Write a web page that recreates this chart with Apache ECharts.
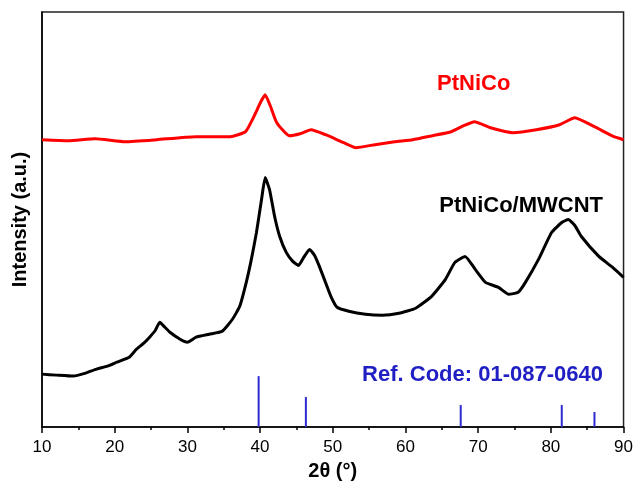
<!DOCTYPE html>
<html>
<head>
<meta charset="utf-8">
<script src="https://cdn.jsdelivr.net/npm/echarts@6/dist/echarts.min.js"></script>
<style>html,body{margin:0;padding:0;background:#fff}#c{width:636px;height:486px}</style>
</head>
<body>
<div id="c"></div>
<script>
// 2θ ticks
const xTicks = [10, 20, 30, 40, 50, 60, 70, 80, 90];
// PtNiCo/MWCNT (black) — [2θ, intensity a.u.]
const mwcnt2theta = [10, 12, 14.3, 16, 17.5, 19, 20.3, 22, 23, 24, 24.8, 25.6, 26.2, 26.9, 27.6, 29, 30, 31.2, 33, 34.8, 36.2, 37.2, 38.1, 38.8, 39.5, 40.2, 40.7, 41.3, 42, 42.7, 43.6, 44.5, 45.3, 46, 46.8, 47.5, 48.1, 49, 49.8, 50.6, 52.2, 54.5, 56.8, 59.1, 61.4, 63.6, 65.5, 66.8, 68.2, 69.6, 71, 72.8, 74.2, 75.5, 76.5, 78.3, 80.1, 81.5, 82.4, 83.3, 84.2, 86.6, 88.5, 90];
const mwcntInt = [53, 52, 51, 54, 58, 61, 65, 70, 78, 84, 90, 97, 105, 100, 95, 88, 85, 90, 93, 96, 108, 121, 145, 168, 195, 228, 250, 238, 211, 191, 175, 166, 162, 170, 178, 172, 162, 145, 130, 120, 116, 113, 112, 114, 119, 131, 148, 165, 171, 158, 145, 140, 133, 135, 145, 168, 195, 205, 208, 202, 191, 171, 160, 150];
// PtNiCo (red)
const ptnico2theta = [10, 13.6, 17.3, 21.5, 25.8, 31.1, 35.9, 38, 39.4, 40.1, 40.7, 41.4, 42.3, 44, 45.5, 47, 49, 51.5, 53.2, 55.8, 58.5, 61, 63.7, 66.3, 68, 69.5, 71.7, 74.8, 78, 81.2, 83.3, 86, 88.7, 90];
const ptnicoInt = [288, 287, 289, 286, 288, 291, 291, 296, 315, 326, 333, 322, 305, 292, 294, 298, 293, 285, 280, 283, 286, 288, 292, 296, 302, 306, 300, 295, 298, 303, 310, 301, 291, 288];
// Reference pattern 01-087-0640
const ref2theta = [39.8, 46.3, 67.6, 81.5, 86.0];
const refInt = [51, 30, 22, 22, 15];

const zip = (a, b) => a.map((v, i) => [v, b[i]]);
const chart = echarts.init(document.getElementById('c'), null, {renderer: 'canvas'});
const FONT = '"Liberation Sans", Arial, sans-serif';
chart.setOption({
  animation: false,
  backgroundColor: '#fff',
  grid: {left: 42, right: 10, top: 12, bottom: 57, show: true, borderColor: '#222', borderWidth: 1.5},
  xAxis: {
    type: 'value', min: xTicks[0], max: xTicks[xTicks.length - 1], interval: 10,
    name: '2θ (°)', nameLocation: 'middle', nameGap: 34,
    nameTextStyle: {fontFamily: FONT, fontWeight: 'bold', fontSize: 20, color: '#000'},
    axisLine: {show: true, lineStyle: {color: '#000', width: 1.5}},
    axisTick: {show: true, inside: false, length: 6, lineStyle: {color: '#000', width: 1.5}},
    minorTick: {show: true, splitNumber: 2, length: 3, lineStyle: {color: '#000', width: 1.5}},
    axisLabel: {fontFamily: FONT, fontSize: 17, color: '#000', margin: 12},
    splitLine: {show: false}
  },
  yAxis: {
    type: 'value', min: 0, max: 416,
    name: 'Intensity (a.u.)', nameLocation: 'middle', nameGap: 12, nameRotate: 90,
    nameTextStyle: {fontFamily: FONT, fontWeight: 'bold', fontSize: 20, color: '#000'},
    axisLine: {show: true, lineStyle: {color: '#000', width: 1.5}},
    axisTick: {show: false}, axisLabel: {show: false}, splitLine: {show: false}
  },
  series: [
    {type: 'line', data: zip(mwcnt2theta, mwcntInt), showSymbol: false, smooth: 0.15,
     lineStyle: {color: '#000', width: 3}, z: 3},
    {type: 'line', data: zip(ptnico2theta, ptnicoInt), showSymbol: false, smooth: 0.15,
     lineStyle: {color: '#ff0000', width: 3}, z: 3},
    {type: 'bar', data: zip(ref2theta, refInt), barWidth: 2, itemStyle: {color: '#2b2bd0'}, z: 2}
  ],
  graphic: [
    {type: 'text', style: {text: 'PtNiCo', x: 437, y: 84, font: 'bold 22px ' + FONT, fill: '#ff0000', verticalAlign: 'middle'}},
    {type: 'text', style: {text: 'PtNiCo/MWCNT', x: 603, y: 206, font: 'bold 22px ' + FONT, fill: '#000', align: 'right', verticalAlign: 'middle'}},
    {type: 'text', style: {text: 'Ref. Code: 01-087-0640', x: 603, y: 375, font: 'bold 22px ' + FONT, fill: '#1f1fc4', align: 'right', verticalAlign: 'middle'}}
  ]
});
</script>
</body>
</html>
